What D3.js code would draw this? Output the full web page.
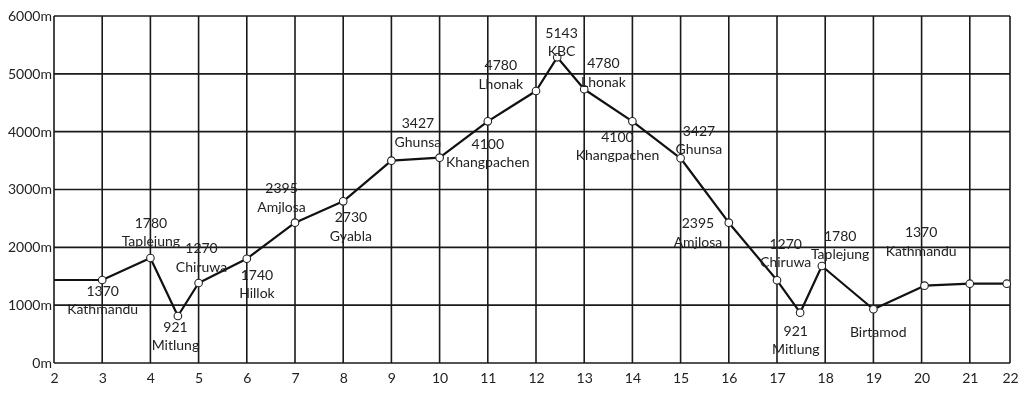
<!DOCTYPE html>
<head>
  <meta charset="utf-8">
  <script src="https://d3js.org/d3.v7.min.js"></script>
  <style>
    body {
      margin:0;position:fixed;top:0;right:0;bottom:0;left:0;
      background:#fff;
      font-family: "Lato", sans-serif;
    }
    .axis text { font-family: "Lato", sans-serif; font-size: 14px; fill: #222; }
    .lbl { font-size: 14px; fill: #222; }
  </style>
</head>

<body>
  <script>
    // trek profile: day position and altitude in metres
    var days = [2, 3, 4, 4.57, 5, 6, 7, 8, 9, 10, 11, 12, 12.44, 13, 14, 15, 16, 17, 17.48, 17.93, 19, 20.06, 21, 21.92];
    var altitude = [1435, 1435, 1815, 813, 1383, 1803, 2426, 2795, 3498, 3550, 4179, 4703, 5286, 4733, 4179, 3540, 2426, 1430, 870, 1677, 929, 1337, 1371, 1371];

    // annotations: number line, place name, and where the label sits (day, metres)
    var labelNums = ["1370", "1780", "921", "1270", "1740", "2395", "2730", "3427", "4100", "4780", "5143", "4780", "4100", "3427", "2395", "1270", "921", "1780", "", "1370"];
    var labelNames = ["Kathmandu", "Taplejung", "Mitlung", "Chiruwa", "Hillok", "Amjlosa", "Gyabla", "Ghunsa", "Khangpachen", "Lhonak", "KBC", "Lhonak", "Khangpachen", "Ghunsa", "Amjlosa", "Chiruwa", "Mitlung", "Taplejung", "Birtamod", "Kathmandu"];
    var labelDay = [3.01, 4.01, 4.52, 5.06, 6.21, 6.72, 8.16, 9.55, 11.0, 11.27, 12.53, 13.40, 13.69, 15.38, 15.36, 17.18, 17.39, 18.31, 19.10, 19.99];
    var labelAlt = [1250, 2426, 622, 1983, 1522, 3021, 2519, 4145, 3787, 5147, 5711, 5182, 3913, 4011, 2415, 2058, 558, 2196, 850, 2260];

    var xTicks = d3.range(2, 23);
    var yTicks = [0, 1000, 2000, 3000, 4000, 5000, 6000];

    var margin = { top: 16, right: 14, bottom: 34, left: 54 };
    var W = 1024, H = 397;
    var width = W - margin.left - margin.right;
    var height = H - margin.top - margin.bottom;

    var svg = d3.select("body").append("svg")
      .attr("width", W)
      .attr("height", H)
      .append("g")
        .attr("transform", "translate(" + margin.left + "," + margin.top + ")");

    // last column of the sheet is a little narrower than the others
    var x = d3.scaleLinear()
      .domain([2, 21, 22])
      .range([0, 19 * 48.2, width]);

    var y = d3.scaleLinear()
      .domain([0, 6000])
      .range([height, 0]);

    // grid
    svg.append("g")
      .selectAll("line.v")
      .data(xTicks)
      .enter().append("line")
        .attr("x1", function(d) { return x(d); })
        .attr("x2", function(d) { return x(d); })
        .attr("y1", 0)
        .attr("y2", height)
        .style("stroke", "#1a1a1a")
        .style("stroke-width", 1.6);

    svg.append("g")
      .selectAll("line.h")
      .data(yTicks)
      .enter().append("line")
        .attr("x1", 0)
        .attr("x2", width)
        .attr("y1", function(d) { return y(d); })
        .attr("y2", function(d) { return y(d); })
        .style("stroke", "#1a1a1a")
        .style("stroke-width", 1.6);

    var xaxis = svg.append("g")
      .attr("class", "axis")
      .attr("transform", "translate(0," + height + ")")
      .call(d3.axisBottom(x).tickValues(xTicks).tickFormat(d3.format("d")).tickSize(0).tickPadding(10));
    xaxis.select(".domain").remove();

    var yaxis = svg.append("g")
      .attr("class", "axis")
      .call(d3.axisLeft(y).tickValues(yTicks).tickFormat(function(d) { return d + "m"; }).tickSize(0).tickPadding(2));
    yaxis.select(".domain").remove();

    var pts = days.map(function(d, i) { return { x: d, y: altitude[i] }; });

    var line = d3.line()
      .x(function(d) { return x(d.x); })
      .y(function(d) { return y(d.y); });

    svg.append("path")
      .datum(pts)
      .attr("d", line)
      .style("fill", "none")
      .style("stroke", "#111")
      .style("stroke-width", 2.2)
      .style("stroke-linejoin", "round");

    svg.selectAll(".dot")
      .data(pts.slice(1))
      .enter().append("circle")
        .attr("class", "dot")
        .attr("cx", function(d) { return x(d.x); })
        .attr("cy", function(d) { return y(d.y); })
        .attr("r", 3.8)
        .style("fill", "#fff")
        .style("stroke", "#222")
        .style("stroke-width", 1.1);

    var labels = labelNames.map(function(n, i) {
      return { num: labelNums[i], name: n, x: labelDay[i], y: labelAlt[i] };
    });

    var g = svg.selectAll(".lab")
      .data(labels)
      .enter().append("g")
        .attr("class", "lab")
        .attr("transform", function(d) { return "translate(" + x(d.x) + "," + y(d.y) + ")"; });

    g.append("text")
      .attr("class", "lbl")
      .attr("text-anchor", "middle")
      .attr("dy", "0.35em")
      .text(function(d) { return d.num; });

    g.append("text")
      .attr("class", "lbl")
      .attr("text-anchor", "middle")
      .attr("y", 18.5)
      .attr("dy", "0.35em")
      .text(function(d) { return d.name; });
  </script>
</body>
